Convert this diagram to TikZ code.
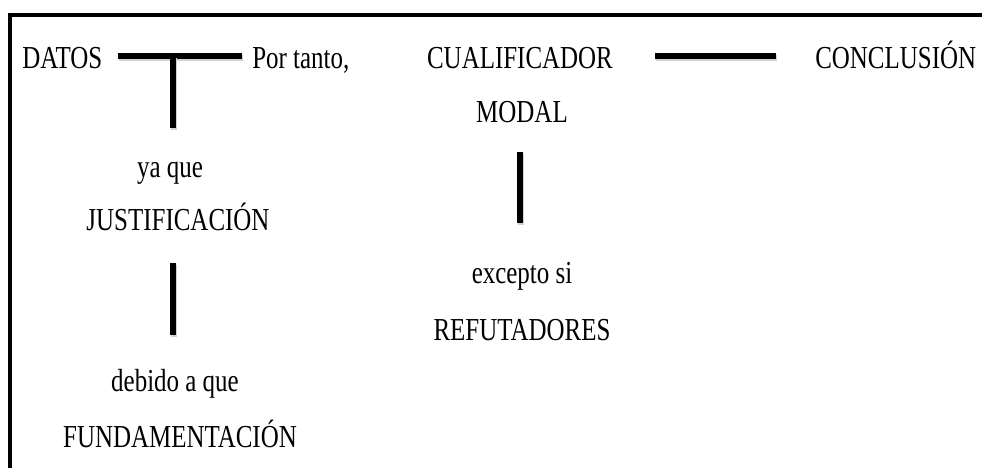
\documentclass[tikz,border=0pt]{standalone}
\usepackage{fontspec}
\setmainfont{Liberation Serif}[FakeStretch=0.78]
\usetikzlibrary{calc}

\begin{document}
\begin{tikzpicture}[x=0.75pt,y=-0.75pt,word/.style={inner sep=0pt,anchor=base,font=\fontsize{24}{28}\selectfont},link/.style={line width=4.2pt,preaction={draw=black!18,line width=4.2pt,transform canvas={shift={(0.9pt,-1.6pt)}}}},frame/.style={line width=3pt}]
\useasboundingbox (0,0) rectangle (982,468);
\draw[frame] (982,15) -- (10,15) -- (10,468);
\node[word,anchor=base west] (datos) at (22,68) {DATOS};
\node[word,anchor=base west] (portanto) at (252,68) {Por tanto,};
\node[word] (cualif) at (520,68) {CUALIFICADOR};
\node[word] (modal) at (522,122) {MODAL};
\node[word,anchor=base west] (conclusion) at (815,68) {CONCLUSIÓN};
\node[word] (yaque) at (170,177) {ya que};
\node[word] (justif) at (178,230) {JUSTIFICACIÓN};
\node[word] (debido) at (175,391) {debido a que};
\node[word] (fundam) at (180,447) {FUNDAMENTACIÓN};
\node[word] (excepto) at (522,283) {excepto si};
\node[word] (refut) at (522,340) {REFUTADORES};
\coordinate (tee) at (173,56);
% datos -> conclusion
\draw[link] ($(datos.base east)+(15,-12)$) -- ($(portanto.base west)+(-10,-12)$);
\draw[link] ($(cualif.base east)+(42,-12)$) -- ($(conclusion.base west)+(-39,-12)$);
% justificacion y fundamentacion
\draw[link] (tee) -- ($(tee |- yaque.base)+(0,-49)$);
\draw[link] ($(tee |- justif.base)+(0,33)$) -- ($(tee |- debido.base)+(0,-56)$);
% refutadores
\draw[link] ($(modal.base)+(-2,30)$) -- ($(excepto.base)+(-2,-60)$);
\end{tikzpicture}
\end{document}
